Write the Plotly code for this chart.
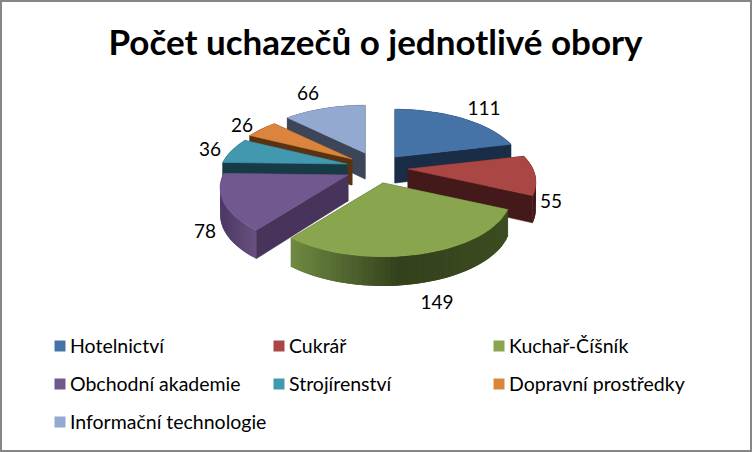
import math
import plotly.graph_objects as go

TITLE = "Počet uchazečů o jednotlivé obory"
categories = ["Hotelnictví", "Cukrář", "Kuchař-Číšník", "Obchodní akademie",
              "Strojírenství", "Dopravní prostředky", "Informační technologie"]
values = [111, 55, 149, 78, 36, 26, 66]

# styling
colors = ["#4572A7", "#AA4643", "#89A54E", "#71588F", "#4198AF", "#DB843D", "#93A9CF"]
radial_wall = ["#1A2D47", "#431A19", "#3A4A20", "#48345A", "#173B45", "#5A3210", "#3D4658"]
arc_stops = [["#1A2D47", "#1A2D47"], ["#431A19", "#431A19"],
             ["#6F8A42", "#34411C", "#3C4C21"], ["#4E3A66", "#675080"],
             ["#173B45", "#173B45"], ["#5A3210", "#5A3210"], ["#3D4658", "#3D4658"]]

# pseudo-3D layout (pixel space)
apex = [(395, 157), (408, 169), (383, 183), (348, 175), (347, 164), (352, 159), (365, 153)]
draw_order = [6, 5, 4, 0, 1, 3, 2]
RX, RY, PERSP, DEPTH = 125, 58, 0.213, 26
label_pos = [(484, 110), (551, 203), (437, 304), (205, 233), (210, 151), (242, 127), (308, 95)]
legend_cols = [54, 273, 493]
legend_rows = [346, 384, 422]
FONT = "Lato"


def outer(i, deg):
    t = math.radians(deg)
    g = 1 / (1 + PERSP * math.cos(t))
    ax, ay = apex[i]
    return ax + RX * math.sin(t) * g, ay - RY * math.cos(t) * g, DEPTH * g ** 0.5


def mix(a, b, f):
    ca = [int(a[k:k + 2], 16) for k in (1, 3, 5)]
    cb = [int(b[k:k + 2], 16) for k in (1, 3, 5)]
    return "rgb(%d,%d,%d)" % tuple(round(p + (q - p) * f) for p, q in zip(ca, cb))


def ramp(stops, f):
    n = len(stops) - 1
    k = min(int(f * n), n - 1)
    return mix(stops[k], stops[k + 1], f * n - k)


def poly(fig, xs, ys, color, width=0.6):
    fig.add_trace(go.Scatter(x=xs + xs[:1], y=ys + ys[:1], mode="lines", fill="toself",
                             fillcolor=color, line=dict(color=color, width=width),
                             hoverinfo="skip", showlegend=False))


fig = go.Figure()
total = sum(values)
starts, acc = [], 0
for v in values:
    starts.append(acc / total * 360)
    acc += v

for i in draw_order:
    a0 = starts[i]
    a1 = a0 + values[i] / total * 360
    ax, ay = apex[i]
    for edge in (a0, a1):
        x, y, d = outer(i, edge)
        poly(fig, [ax, x, x, ax], [ay, y, y + d, ay + DEPTH], radial_wall[i])
    n = max(4, int((a1 - a0) / 2))
    degs = [a0 + (a1 - a0) * k / n for k in range(n + 1)]
    pts = [outer(i, d) for d in degs]
    lo, hi = min(pts[0][0], pts[-1][0]), max(pts[0][0], pts[-1][0])
    for k in range(n):
        # each strip overlaps the next one so that no seams show
        p, q, r = pts[k], pts[k + 1], pts[min(k + 2, n)]
        f = ((p[0] + q[0]) / 2 - lo) / max(hi - lo, 1)
        poly(fig, [p[0], q[0], r[0], r[0], q[0], p[0]],
             [p[1], q[1], r[1], r[1] + r[2], q[1] + q[2], p[1] + p[2]],
             ramp(arc_stops[i], min(max(f, 0), 1)), width=0)
    poly(fig, [ax] + [p[0] for p in pts], [ay] + [p[1] for p in pts], colors[i])

# data labels
fig.add_trace(go.Scatter(x=[p[0] for p in label_pos], y=[p[1] for p in label_pos],
                         text=[str(v) for v in values], mode="text",
                         textfont=dict(family=FONT, size=19, color="#000000"),
                         hoverinfo="skip", showlegend=False))

# legend
cells = [(legend_cols[k % 3], legend_rows[k // 3]) for k in range(len(categories))]
fig.add_trace(go.Scatter(x=[c[0] + 6 for c in cells], y=[c[1] for c in cells], mode="markers",
                         marker=dict(symbol="square", size=11, color=colors),
                         hoverinfo="skip", showlegend=False))
fig.add_trace(go.Scatter(x=[c[0] + 16 for c in cells], y=[c[1] + 2 for c in cells], text=categories,
                         mode="text", textposition="middle right",
                         textfont=dict(family=FONT, size=19.5, color="#000000"),
                         hoverinfo="skip", showlegend=False))

fig.update_layout(
    width=752, height=452, margin=dict(l=0, r=0, t=0, b=0),
    paper_bgcolor="#FFFFFF", plot_bgcolor="#FFFFFF", showlegend=False,
    xaxis=dict(range=[0, 752], visible=False, fixedrange=True),
    yaxis=dict(range=[452, 0], visible=False, fixedrange=True),
    title=dict(text=TITLE, x=375.5 / 752, xanchor="center", y=1 - 43 / 452, yanchor="middle",
               font=dict(family=FONT, size=35, color="#000000", weight="bold")),
    shapes=[dict(type="rect", xref="paper", yref="paper", x0=0, y0=0, x1=1, y1=1,
                 line=dict(color="#868686", width=4), fillcolor="rgba(0,0,0,0)")],
)
fig.write_html("out.html", config={"displayModeBar": False},
               post_script="document.body.style.margin='0';document.body.style.overflow='hidden';")
